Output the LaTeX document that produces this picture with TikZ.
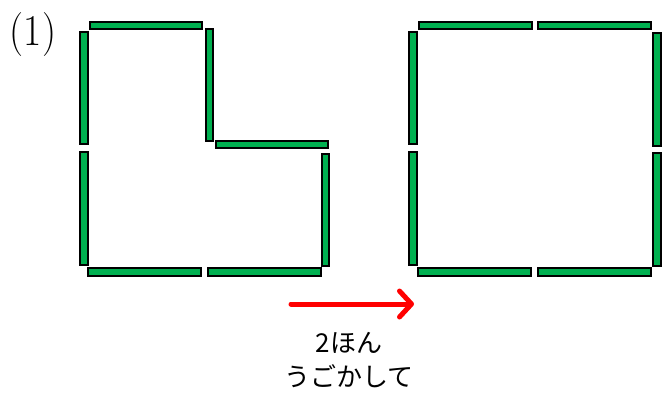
\documentclass[tikz,border=0pt]{standalone}
\usepackage{fontspec}
\newfontfamily\jpfont{Noto Sans CJK JP}
\usetikzlibrary{arrows.meta}
\definecolor{stickgreen}{HTML}{00B050}
\definecolor{movered}{HTML}{FF0000}

\begin{document}
\begin{tikzpicture}[x=1pt, y=-1pt,
  stick/.style={fill=stickgreen, draw=black, line width=1.8pt},
  movearrow/.style={movered, line width=5pt, line cap=round,
    -{Straight Barb[length=12pt, width=26pt, round]}}]

\useasboundingbox (0,0) rectangle (663,394);

% Label
\node[font=\fontsize{44}{44}\selectfont, inner sep=0pt] (label) at (33,35) {\scalebox{0.9}[1]{(1)}};

%%% Left figure: L shape %%%
\draw[stick] (90,22) rectangle (202,29);
\draw[stick] (80,32) rectangle (88,144);
\draw[stick] (206,29) rectangle (213,141);
\draw[stick] (216,141) rectangle (328,148);
\draw[stick] (322,154) rectangle (329,266);
\draw[stick] (80,152) rectangle (88,265);
\draw[stick] (88,268) rectangle (201,276);
\draw[stick] (208,268) rectangle (321,276);

%%% Right figure: square %%%
\draw[stick] (419,22) rectangle (532,29);
\draw[stick] (538,22) rectangle (651,29);
\draw[stick] (409,32) rectangle (417,144);
\draw[stick] (409,152) rectangle (417,265);
\draw[stick] (653,33) rectangle (661,146);
\draw[stick] (653,153) rectangle (661,266);
\draw[stick] (418,268) rectangle (531,276);
\draw[stick] (538,268) rectangle (651,276);

% Arrow and caption
\coordinate (from) at (291,304);
\coordinate (to) at (414,304);
\draw[movearrow] (from) -- (to);
\node[font=\jpfont\fontsize{26}{34}\selectfont, align=center, inner sep=0pt] (caption) at (349,360) {2ほん\\うごかして};

\end{tikzpicture}
\end{document}
